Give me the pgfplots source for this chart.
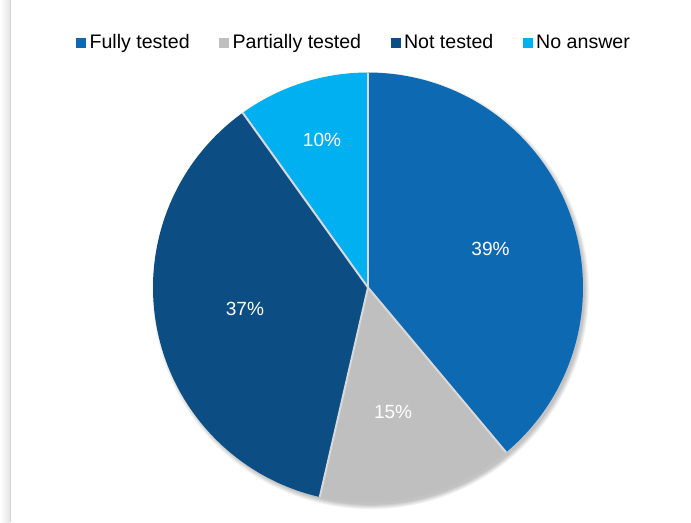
\documentclass[border=0pt]{standalone}
\usepackage{fontspec}
\setmainfont{Liberation Sans}
\usepackage{pgfplots}
\usepackage{pgfplotstable}
\pgfplotsset{compat=1.18}
\usepgfplotslibrary{polar}

\definecolor{cfull}{RGB}{14,105,179}
\definecolor{cpart}{RGB}{191,191,191}
\definecolor{cnot}{RGB}{12,78,132}
\definecolor{cnone}{RGB}{0,176,240}
\definecolor{sepc}{RGB}{217,217,217}

% share in percent, printed label, label angle and radius
\pgfplotstableread{
name value pct la lr
Fully 38.9 39 17.4 0.597
Partially 14.7 15 -78.6 0.591
Not 36.5 37 189.9 0.581
None 9.9 10 107.3 0.719
}\pietable

\begin{document}
\begin{tikzpicture}
\path[use as bounding box] (0,0) rectangle (518.25pt,391.5pt);

% frame edge on the left
\shade[left color=white, right color=black!10] (0,0) rectangle (7.5pt,391.5pt);
\draw[black!17, line width=0.6pt] (7.8pt,0) -- (7.8pt,391.5pt);

% slice angles, clockwise from the top
\xdef\cum{90}
\foreach \i/\n in {0/A,1/B,2/C,3/D}{%
  \pgfplotstablegetelem{\i}{value}\of\pietable
  \pgfmathsetmacro\tmpb{\cum-3.6*\pgfplotsretval}%
  \expandafter\xdef\csname s\n\endcsname{\cum}%
  \expandafter\xdef\csname e\n\endcsname{\tmpb}%
  \pgfplotstablegetelem{\i}{pct}\of\pietable
  \expandafter\xdef\csname pt\n\endcsname{\pgfplotsretval}%
  \pgfplotstablegetelem{\i}{la}\of\pietable
  \expandafter\xdef\csname la\n\endcsname{\pgfplotsretval}%
  \pgfplotstablegetelem{\i}{lr}\of\pietable
  \expandafter\xdef\csname lr\n\endcsname{\pgfplotsretval}%
  \xdef\cum{\tmpb}%
}

\begin{polaraxis}[
  at={(276pt,175.875pt)}, anchor=origin,
  scale only axis, width=322.5pt, height=322.5pt,
  xmin=0, xmax=360, ymin=0, ymax=1,
  hide axis, clip=false,
]
% soft shadow
\pgfplotsinvokeforeach{1,...,6}{
  \addplot[draw=none, fill=black, fill opacity=0.045, domain=0:360, samples=181,
    xshift=2pt, yshift=-2.5pt, forget plot] {1+0.004*(#1-2)};
}
\addplot[fill=cfull, draw=none, domain=\eA:\sA, samples=100] {1} -- (axis cs:0,0) -- cycle;
\addplot[fill=cpart, draw=none, domain=\eB:\sB, samples=60] {1} -- (axis cs:0,0) -- cycle;
\addplot[fill=cnot, draw=none, domain=\eC:\sC, samples=100] {1} -- (axis cs:0,0) -- cycle;
\addplot[fill=cnone, draw=none, domain=\eD:\sD, samples=40] {1} -- (axis cs:0,0) -- cycle;

\addplot[sepc, line width=1.5pt] coordinates {(\sA,0) (\sA,1)};
\addplot[sepc, line width=1.5pt] coordinates {(\sB,0) (\sB,1)};
\addplot[sepc, line width=1.5pt] coordinates {(\sC,0) (\sC,1)};
\addplot[sepc, line width=1.5pt] coordinates {(\sD,0) (\sD,1)};

\node[text=white, font=\fontsize{14.3}{16}\selectfont] at (axis cs:\laA,\lrA) {\ptA\%};
\node[text=white, font=\fontsize{14.3}{16}\selectfont] at (axis cs:\laB,\lrB) {\ptB\%};
\node[text=white, font=\fontsize{14.3}{16}\selectfont] at (axis cs:\laC,\lrC) {\ptC\%};
\node[text=white, font=\fontsize{14.3}{16}\selectfont] at (axis cs:\laD,\lrD) {\ptD\%};
\end{polaraxis}

% full-frame axis that carries the legend
\begin{axis}[
  at={(0pt,0pt)}, anchor=south west,
  scale only axis, width=518.25pt, height=391.5pt,
  xmin=0, xmax=691, ymin=0, ymax=522,
  hide axis,
  legend columns=4,
  legend style={at={(axis cs:76,479.2)}, anchor=west, draw=none, fill=none,
    inner sep=0pt, font=\fontsize{14.7}{17}\selectfont,
    nodes={inner sep=0pt, text depth=0.15em},
    /tikz/every odd column/.style={column sep=2.8pt},
    /tikz/every even column/.style={column sep=22.2pt}},
  legend image code/.code={\fill[#1] (0pt,-3.375pt) rectangle (6.75pt,3.375pt);},
]
\addlegendimage{cfull}\addlegendentry{Fully tested}
\addlegendimage{cpart}\addlegendentry{Partially tested}
\addlegendimage{cnot}\addlegendentry{Not tested}
\addlegendimage{cnone}\addlegendentry{No answer}
\end{axis}
\end{tikzpicture}
\end{document}
